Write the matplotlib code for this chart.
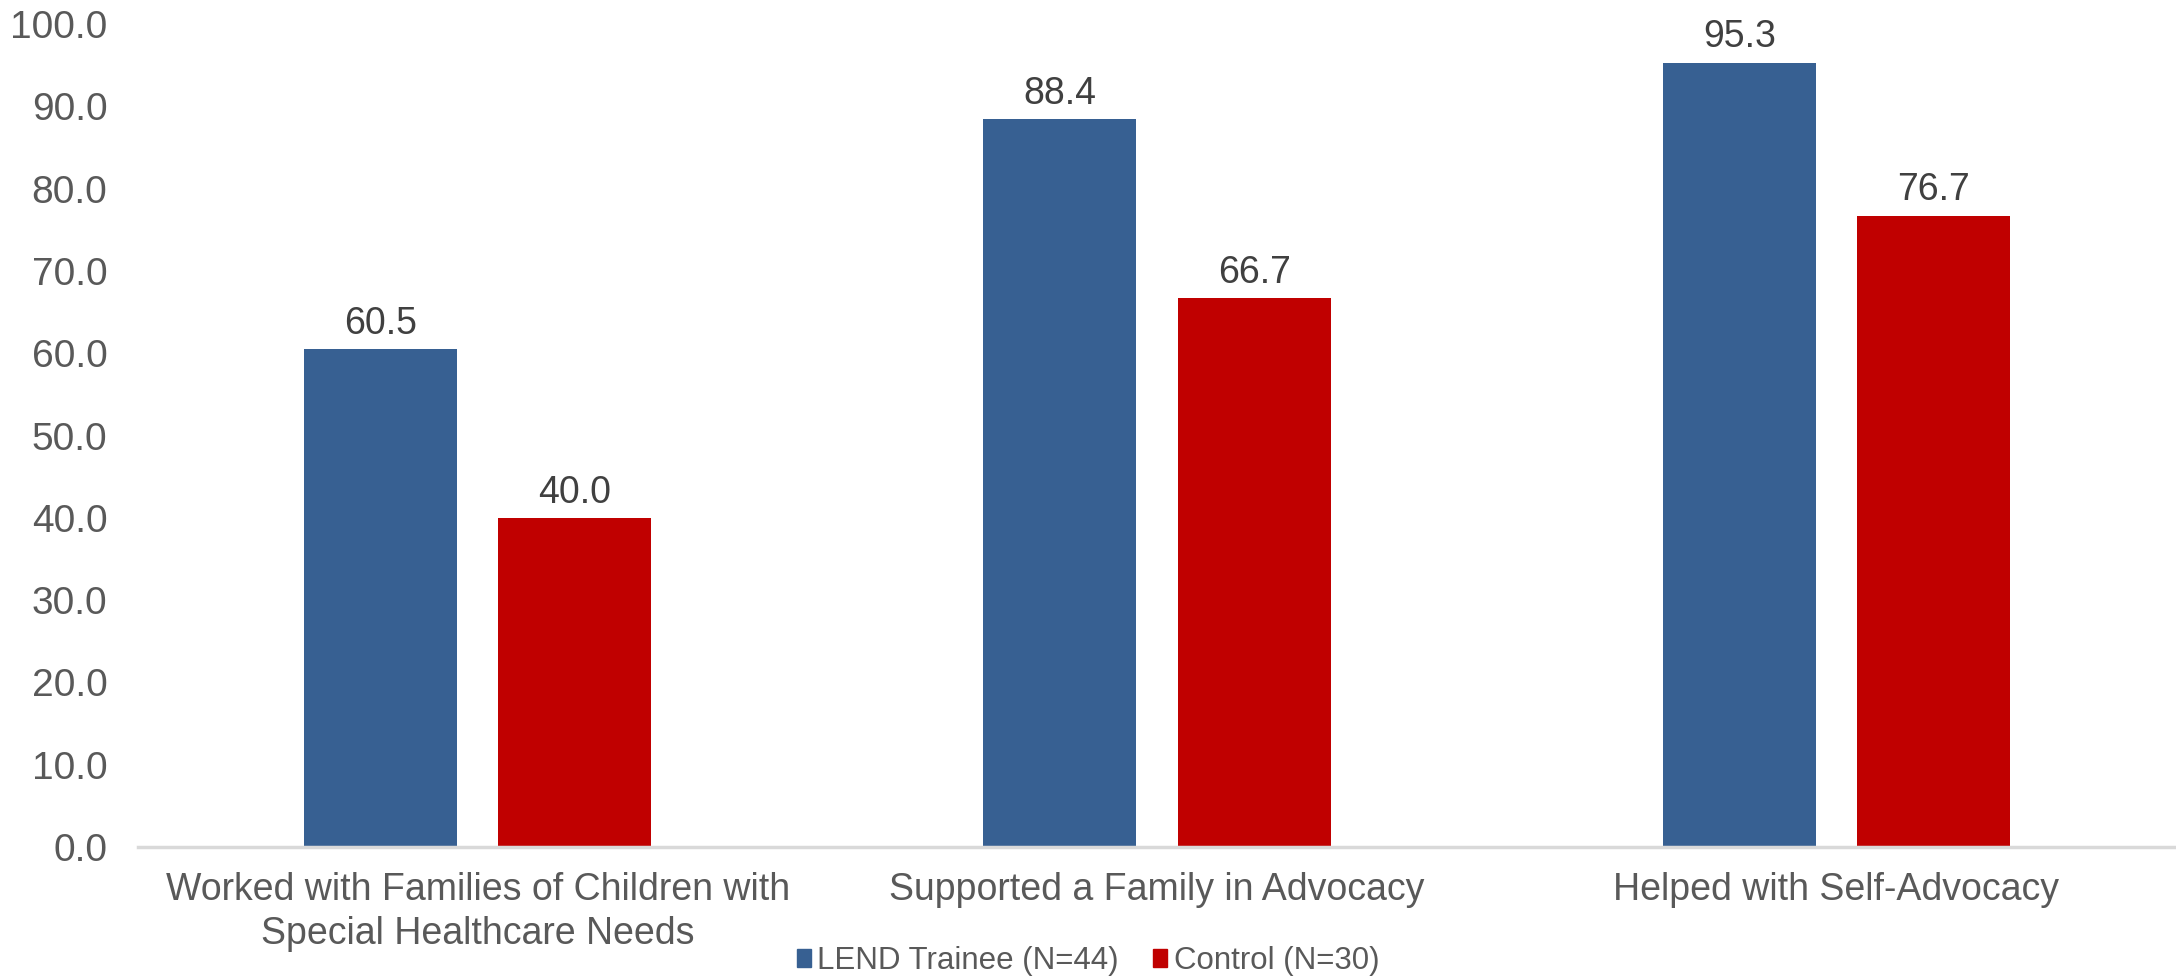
import numpy as np
import matplotlib.pyplot as plt
from matplotlib.patches import Patch

plt.rcParams['font.family'] = ['Liberation Sans', 'DejaVu Sans']

# Data
categories = ["Worked with Families of Children with\nSpecial Healthcare Needs",
              "Supported a Family in Advocacy",
              "Helped with Self-Advocacy"]
series_names = ["LEND Trainee (N=44)", "Control (N=30)"]
lend = [60.5, 88.4, 95.3]
control = [40.0, 66.7, 76.7]
colors = ["#376092", "#C00000"]

fig = plt.figure(figsize=(21.76, 9.8), dpi=100)
ax = fig.add_axes([138 / 2176, 1 - 847 / 980, 1 - 138 / 2176, (847 - 24) / 980])

x = np.arange(len(categories))
w = 0.225
off = 0.143
for vals, dx, c in zip([lend, control], [-off, off], colors):
    bars = ax.bar(x + dx, vals, w, color=c, zorder=2)
    for b, v in zip(bars, vals):
        ax.annotate(f"{v:.1f}", (b.get_x() + b.get_width() / 2, v),
                    xytext=(0, 11), textcoords="offset points",
                    ha="center", va="baseline", fontsize=27, color="#404040")

ax.set_xlim(-0.5, 2.5)
ax.set_ylim(0, 100)
ax.set_yticks(np.arange(0, 101, 10))
ax.set_yticklabels([f"{v:.1f}" for v in np.arange(0, 101, 10)])
ax.set_xticks(x)
ax.set_xticklabels(categories, linespacing=1.28)

for s in ["top", "right", "left"]:
    ax.spines[s].set_visible(False)
ax.spines["bottom"].set_color("#D9D9D9")
ax.spines["bottom"].set_linewidth(2.5)
ax.tick_params(axis="y", length=0, pad=22, labelsize=28, labelcolor="#595959")
ax.tick_params(axis="x", length=0, pad=18, labelsize=27, labelcolor="#595959")

handles = [Patch(color=c) for c in colors]
fig.legend(handles, series_names, loc="lower center", bbox_to_anchor=(0.5, -0.025),
           ncol=2, frameon=False, fontsize=22.5, labelcolor="#595959",
           handlelength=0.45, handleheight=0.5, handletextpad=0.2,
           columnspacing=1.1)

fig.savefig("out.png", dpi=100)
